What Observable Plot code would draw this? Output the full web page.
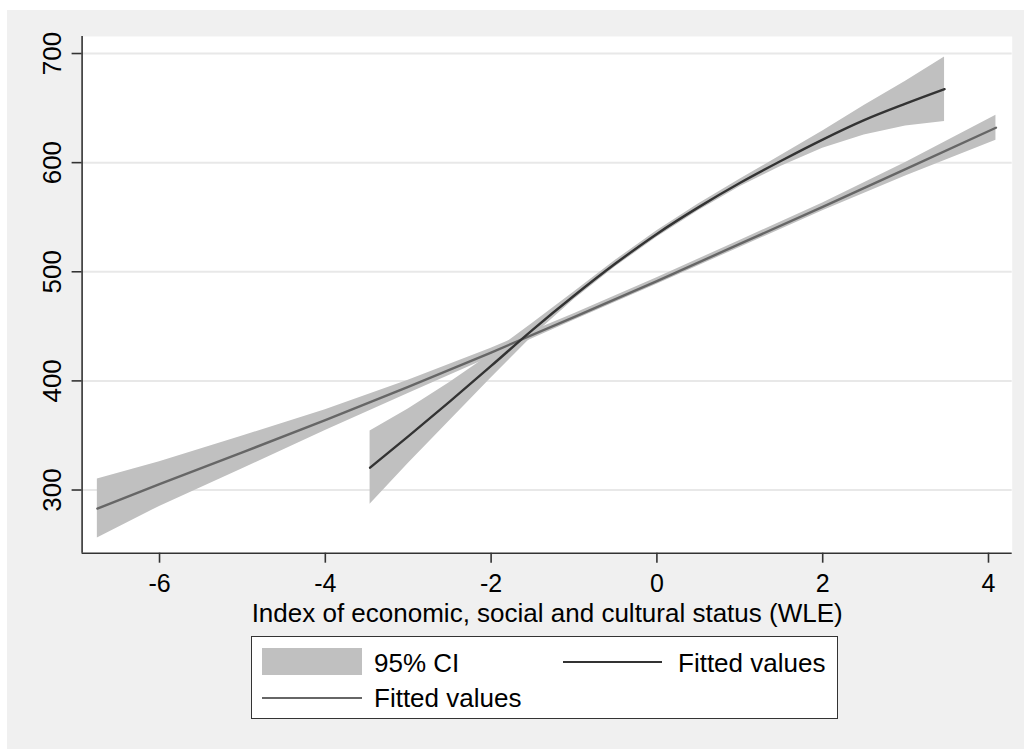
<!DOCTYPE html>
<html>
<head>
<meta charset="utf-8">
<script src="https://cdn.jsdelivr.net/npm/d3@7"></script>
<script src="https://cdn.jsdelivr.net/npm/@observablehq/plot@0.6"></script>
<style>
  html, body { margin: 0; padding: 0; background: #ffffff; overflow: hidden; }
  body { width: 1024px; height: 749px; position: relative; font-family: "Liberation Sans", Arial, sans-serif; }
  #bg { position: absolute; left: 7px; top: 10px; width: 1017px; height: 739px; background: #f0f0f0; }
  #chart { position: absolute; left: 0; top: 0; }
  #legend { position: absolute; left: 251px; top: 636px; width: 587px; height: 83px; background: #ffffff; border: 1px solid #333; box-sizing: border-box; }
  .sw { position: absolute; }
  .lt { position: absolute; font-size: 26px; line-height: 26px; color: #000; white-space: nowrap; }
</style>
</head>
<body>
<div id="bg"></div>
<div id="chart"></div>
<div id="legend"></div>
<script>
// ---- data ----
const xTicks = [-6, -4, -2, 0, 2, 4];
const yTicks = [300, 400, 500, 600, 700];

// lighter fitted line (wide range) and its 95% CI
const xLin   = [-6.75, -6, -5, -4, -3, -2, -1, 0, 1, 2, 3, 4.09];
const fitLin = [283, 305.5, 334.5, 364, 394.5, 426, 458.5, 491.5, 525.5, 559.5, 594, 632];
const loLin  = [256, 285, 319.5, 354.5, 388.5, 422, 455.5, 488.5, 522.3, 555.9, 587.8, 620.5];
const hiLin  = [310, 326, 349.5, 373.5, 400.5, 430, 461.5, 494.5, 528.7, 563.1, 600.2, 643.5];

// darker fitted line (curved) and its 95% CI
const xQuad   = [-3.46, -3, -2.5, -2, -1.5, -1, -0.5, 0, 0.5, 1, 1.5, 2, 2.5, 3, 3.47];
const fitQuad = [320.5, 349.2, 381, 413.7, 446.8, 478, 507.5, 534.7, 559, 581.3, 601.7, 621.1, 638.9, 654, 667.3];
const loQuad  = [287, 324.2, 363.5, 402.7, 440.8, 474.5, 504.5, 531.7, 556, 577.8, 596.7, 613.1, 625.4, 633.5, 637.8];
const hiQuad  = [354, 374.2, 398.5, 424.7, 452.8, 481.5, 510.5, 537.7, 562, 584.8, 606.7, 629.1, 652.4, 674.5, 696.8];

const xTitle = "Index of economic, social and cultural status (WLE)";
const legendLabels = ["95% CI", "Fitted values", "Fitted values"];

const xDomain = [-6.934, 4.286];
const yDomain = [242.1, 715.6];

const linRows = xLin.map((x, i) => ({x, fit: fitLin[i], lo: loLin[i], hi: hiLin[i]}));
const quadRows = xQuad.map((x, i) => ({x, fit: fitQuad[i], lo: loQuad[i], hi: hiQuad[i]}));

const FONT = '"Liberation Sans", Arial, sans-serif';
const BAND = "#c0c0c0";
const DARK = "#333333";
const LIGHT = "#666666";
const AXIS = "#333333";

const chart = Plot.plot({
  width: 1024,
  height: 636,
  marginLeft: 81.6,
  marginRight: 12.3,
  marginTop: 36,
  marginBottom: 83.3,
  x: {domain: xDomain},
  y: {domain: yDomain},
  style: {background: "transparent", fontFamily: FONT, fontSize: "26px", color: "#000"},
  marks: [
    Plot.frame({fill: "white", stroke: "none"}),
    Plot.gridY(yTicks, {stroke: "#e8e8e8", strokeOpacity: 1, strokeWidth: 2}),
    Plot.areaY(linRows, {x: "x", y1: "lo", y2: "hi", fill: BAND}),
    Plot.areaY(quadRows, {x: "x", y1: "lo", y2: "hi", fill: BAND}),
    Plot.line(linRows, {x: "x", y: "fit", stroke: LIGHT, strokeWidth: 2.4}),
    Plot.line(quadRows, {x: "x", y: "fit", stroke: DARK, strokeWidth: 2.4, curve: "monotone-x"}),
    Plot.ruleX([xDomain[0]], {stroke: AXIS, strokeWidth: 1.6}),
    Plot.ruleY([yDomain[0]], {stroke: AXIS, strokeWidth: 1.6}),
    Plot.axisX(xTicks, {tickSize: 10, tickPadding: 11, fontSize: 25, label: null, stroke: AXIS, strokeWidth: 1.6, tickFormat: d => String(d)}),
    Plot.axisY(yTicks, {tickSize: 10, label: null, stroke: AXIS, strokeWidth: 1.6, tickFormat: () => ""}),
    Plot.text(yTicks, {y: d => d, text: d => String(d), frameAnchor: "left", dx: -29, rotate: -90, fontSize: 26, textAnchor: "middle", lineAnchor: "middle", fill: "#000"}),
    Plot.text([xTitle], {frameAnchor: "bottom", dy: 60, fontSize: 26, lineAnchor: "middle", fill: "#000"})
  ]
});
document.getElementById("chart").appendChild(chart);

// legend (HTML, below the plot area)
const lg = document.getElementById("legend");
const L = 251, T = 636;
function add(el, left, top, w, h, css) {
  el.style.left = (left - L - 1) + "px";
  el.style.top = (top - T - 1) + "px";
  if (w != null) el.style.width = w + "px";
  if (h != null) el.style.height = h + "px";
  Object.assign(el.style, css || {});
  lg.appendChild(el);
}
const sw = document.createElement("div"); sw.className = "sw";
add(sw, 262, 648, 100, 27, {background: BAND});
const t1 = document.createElement("div"); t1.className = "lt"; t1.textContent = legendLabels[0];
add(t1, 374, 650);
const l1 = document.createElement("div"); l1.className = "sw";
add(l1, 563, 660.6, 99, 2.2, {background: DARK});
const t2 = document.createElement("div"); t2.className = "lt"; t2.textContent = legendLabels[1];
add(t2, 678, 650);
const l2 = document.createElement("div"); l2.className = "sw";
add(l2, 262, 697.2, 100, 2.2, {background: LIGHT});
const t3 = document.createElement("div"); t3.className = "lt"; t3.textContent = legendLabels[2];
add(t3, 374, 685);
</script>
</body>
</html>
